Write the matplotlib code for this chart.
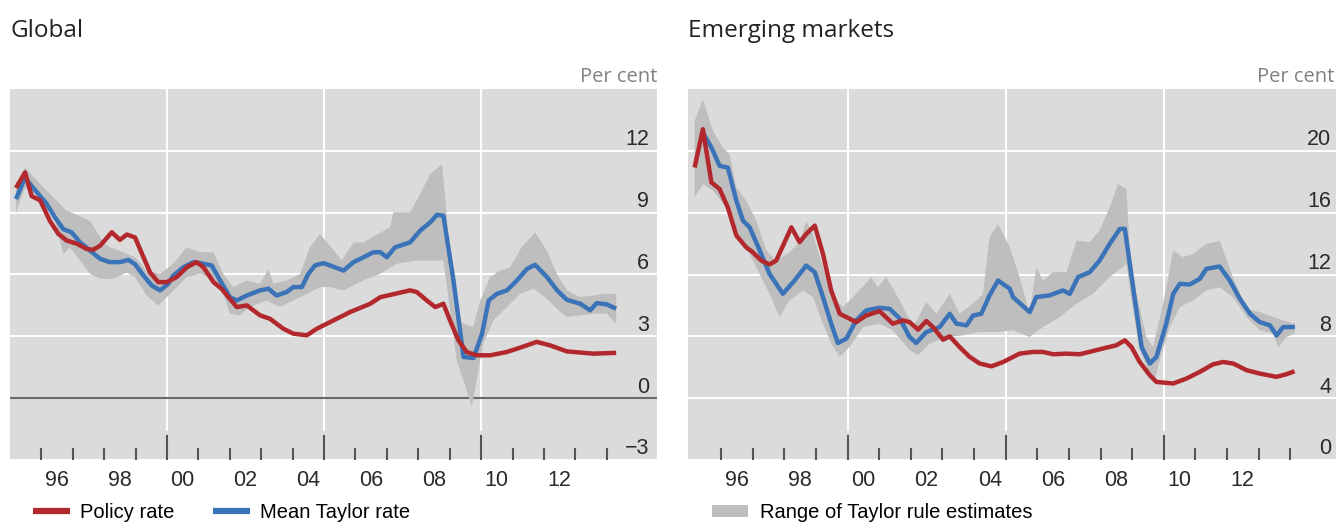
import matplotlib
matplotlib.use("Agg")
import matplotlib.pyplot as plt
from matplotlib.lines import Line2D
from matplotlib.patches import Patch

# ---- data (year, per cent) ----
# Global
gl_policy_x = [1995.19, 1995.48, 1995.69, 1995.96, 1996.27, 1996.54, 1996.80, 1997.12, 1997.44, 1997.65,
               1997.87, 1998.24, 1998.50, 1998.72, 1998.98, 1999.25, 1999.46, 1999.72, 1999.99, 2000.30,
               2000.63, 2000.94, 2001.16, 2001.48, 2001.74, 2002.00, 2002.22, 2002.54, 2002.96, 2003.28,
               2003.70, 2004.02, 2004.45, 2004.77, 2005.19, 2005.83, 2006.47, 2006.79, 2007.74, 2007.95,
               2008.27, 2008.54, 2008.80, 2009.01, 2009.28, 2009.54, 2009.86, 2010.29, 2010.82, 2011.24,
               2011.77, 2012.20, 2012.73, 2013.57, 2014.30]
gl_policy = [10.2, 10.95, 9.8, 9.6, 8.6, 7.97, 7.65, 7.5, 7.24, 7.2,
             7.4, 8.05, 7.68, 7.94, 7.8, 6.84, 6.1, 5.63, 5.63, 5.87,
             6.35, 6.6, 6.35, 5.63, 5.3, 4.82, 4.42, 4.5, 4.02, 3.85,
             3.37, 3.13, 3.05, 3.37, 3.69, 4.18, 4.58, 4.9, 5.23, 5.15,
             4.74, 4.42, 4.58, 3.77, 2.8, 2.24, 2.08, 2.08, 2.24, 2.45,
             2.73, 2.56, 2.27, 2.16, 2.2]

gl_taylor_x = [1995.19, 1995.48, 1995.74, 1996.17, 1996.43, 1996.70, 1996.96, 1997.23, 1997.55, 1997.87,
               1998.18, 1998.50, 1998.77, 1998.98, 1999.25, 1999.51, 1999.78, 2000.04, 2000.20, 2000.52,
               2000.84, 2001.16, 2001.42, 2001.69, 2002.00, 2002.22, 2002.54, 2002.96, 2003.23, 2003.49,
               2003.81, 2004.02, 2004.29, 2004.50, 2004.71, 2004.98, 2005.19, 2005.62, 2005.94, 2006.26,
               2006.57, 2006.79, 2007.00, 2007.26, 2007.74, 2008.06, 2008.38, 2008.59, 2008.80, 2009.12,
               2009.44, 2009.76, 2010.03, 2010.24, 2010.50, 2010.82, 2011.14, 2011.46, 2011.72, 2012.10,
               2012.42, 2012.73, 2013.16, 2013.47, 2013.68, 2014.00, 2014.30]
gl_taylor = [9.66, 10.7, 10.2, 9.42, 8.77, 8.2, 8.05, 7.56, 7.16, 6.76,
             6.6, 6.6, 6.71, 6.5, 5.95, 5.47, 5.23, 5.55, 5.95, 6.35,
             6.6, 6.52, 6.44, 5.71, 4.9, 4.74, 4.98, 5.23, 5.31, 4.98,
             5.15, 5.39, 5.39, 6.03, 6.44, 6.55, 6.44, 6.19, 6.6, 6.84,
             7.08, 7.08, 6.84, 7.32, 7.56, 8.13, 8.53, 8.89, 8.85, 5.71,
             2.0, 1.95, 3.13, 4.74, 5.06, 5.23, 5.71, 6.27, 6.47, 5.87,
             5.23, 4.77, 4.58, 4.26, 4.61, 4.55, 4.34]

gl_hi_x = [1995.19, 1995.48, 1995.96, 1996.38, 1996.80, 1997.12, 1997.55, 1997.97, 1998.18, 1998.61,
           1998.98, 1999.35, 1999.78, 2000.20, 2000.63, 2001.05, 2001.48, 2001.79, 2002.11, 2002.54,
           2002.96, 2003.23, 2003.39, 2003.81, 2004.24, 2004.55, 2004.87, 2005.19, 2005.56, 2005.94,
           2006.25, 2007.10, 2007.21, 2007.74, 2008.06, 2008.38, 2008.75, 2008.85, 2009.01, 2009.22,
           2009.44, 2009.75, 2009.97, 2010.29, 2010.60, 2010.92, 2011.29, 2011.72, 2012.09, 2012.41,
           2012.73, 2013.15, 2013.58, 2013.90, 2014.30]
gl_hi = [10.3, 11.2, 10.4, 9.74, 9.1, 8.9, 8.6, 7.56, 7.32, 7.08,
         6.84, 6.19, 6.03, 6.52, 7.32, 7.08, 7.08, 6.03, 5.39, 5.71,
         5.55, 6.27, 5.55, 5.71, 6.03, 7.32, 7.97, 7.4, 6.68, 7.56,
         7.56, 8.29, 9.02, 9.02, 9.9, 10.87, 11.35, 9.9, 6.68, 3.94,
         3.61, 3.45, 4.74, 5.87, 6.19, 6.35, 7.32, 8.05, 7.16, 6.03,
         5.23, 4.9, 4.98, 5.06, 5.06]

gl_lo_x = [1995.19, 1995.48, 1995.96, 1996.38, 1996.70, 1996.91, 1997.23, 1997.55, 1997.87, 1998.29,
           1998.71, 1998.98, 1999.35, 1999.72, 1999.99, 2000.31, 2000.63, 2001.05, 2001.48, 2001.79,
           2002.00, 2002.32, 2002.64, 2003.17, 2003.60, 2004.02, 2004.45, 2004.87, 2005.19, 2005.62,
           2006.25, 2006.78, 2007.31, 2007.95, 2008.80, 2009.01, 2009.22, 2009.54, 2009.70, 2009.86,
           2010.07, 2010.39, 2010.82, 2011.24, 2011.67, 2012.09, 2012.41, 2012.73, 2013.15, 2013.58,
           2014.00, 2014.30]
gl_lo = [9.0, 10.2, 9.74, 8.94, 7.0, 7.32, 6.68, 6.03, 5.79, 5.79,
         6.1, 5.87, 4.98, 4.5, 4.9, 5.39, 5.87, 6.03, 5.79, 5.06,
         4.1, 4.02, 4.42, 4.74, 4.42, 4.74, 5.06, 5.39, 5.39, 5.23,
         5.71, 6.03, 6.52, 6.68, 6.68, 4.26, 1.84, 0.39, -0.42, 0.87,
         2.65, 3.77, 4.42, 5.06, 5.31, 4.82, 4.34, 3.94, 4.02, 4.1,
         4.1, 3.6]

# Emerging markets
em_policy_x = [1995.16, 1995.42, 1995.69, 1995.95, 1996.21, 1996.48, 1996.79, 1997.00, 1997.27, 1997.53,
               1997.74, 1998.22, 1998.48, 1998.69, 1998.96, 1999.22, 1999.48, 1999.75, 2000.06, 2000.27,
               2000.59, 2001.01, 2001.43, 2001.75, 2001.96, 2002.23, 2002.49, 2002.70, 2003.02, 2003.23,
               2003.54, 2003.86, 2004.18, 2004.55, 2004.92, 2005.13, 2005.44, 2005.86, 2006.18, 2006.50,
               2006.92, 2007.34, 2007.76, 2008.19, 2008.50, 2008.77, 2008.98, 2009.24, 2009.56, 2009.77,
               2010.30, 2010.72, 2011.14, 2011.56, 2011.88, 2012.20, 2012.62, 2013.04, 2013.57, 2013.88,
               2014.14]
em_policy = [18.92, 21.4, 17.96, 17.53, 16.34, 14.52, 13.76, 13.44, 12.9, 12.65,
             12.9, 15.05, 14.09, 14.62, 15.16, 13.33, 10.97, 9.46, 9.14, 8.92,
             9.35, 9.63, 8.82, 9.03, 8.92, 8.43, 8.99, 8.6, 7.78, 8.0,
             7.31, 6.67, 6.24, 6.06, 6.34, 6.56, 6.88, 6.99, 6.99, 6.84,
             6.88, 6.84, 7.05, 7.27, 7.42, 7.74, 7.31, 6.34, 5.48, 5.05,
             4.95, 5.27, 5.7, 6.19, 6.34, 6.24, 5.81, 5.59, 5.38, 5.55,
             5.74]

em_taylor_x = [1995.42, 1995.69, 1995.95, 1996.21, 1996.48, 1996.69, 1996.90, 1997.22, 1997.53, 1997.95,
               1998.32, 1998.69, 1998.96, 1999.22, 1999.48, 1999.69, 1999.96, 2000.27, 2000.59, 2001.01,
               2001.33, 2001.65, 2001.96, 2002.17, 2002.49, 2002.91, 2003.23, 2003.44, 2003.76, 2003.97,
               2004.23, 2004.49, 2004.76, 2005.13, 2005.23, 2005.76, 2005.97, 2006.39, 2006.81, 2007.03,
               2007.29, 2007.66, 2007.97, 2008.29, 2008.61, 2008.77, 2009.03, 2009.30, 2009.56, 2009.77,
               2010.08, 2010.30, 2010.51, 2010.82, 2011.14, 2011.35, 2011.77, 2012.09, 2012.41, 2012.73,
               2013.04, 2013.36, 2013.57, 2013.78, 2014.15]
em_taylor = [21.18, 20.22, 19.03, 18.92, 16.77, 15.48, 15.05, 13.55, 12.04, 10.75,
             11.61, 12.58, 12.15, 10.54, 8.82, 7.57, 7.85, 9.03, 9.68, 9.85,
             9.78, 9.14, 7.96, 7.57, 8.28, 8.6, 9.46, 8.82, 8.71, 9.35,
             9.46, 10.65, 11.61, 11.08, 10.54, 9.57, 10.54, 10.65, 10.97, 10.75,
             11.83, 12.15, 12.9, 13.98, 14.95, 14.95, 11.18, 7.31, 6.24, 6.67,
             8.82, 10.75, 11.4, 11.35, 11.72, 12.37, 12.52, 11.61, 10.43, 9.46,
             8.92, 8.71, 8.06, 8.6, 8.6]

em_hi_x = [1995.16, 1995.42, 1995.74, 1996.05, 1996.27, 1996.48, 1996.79, 1997.11, 1997.43, 1997.74,
           1998.16, 1998.48, 1998.69, 1998.90, 1999.22, 1999.54, 1999.85, 2000.27, 2000.75, 2000.96,
           2001.22, 2001.65, 2002.07, 2002.49, 2002.81, 2003.23, 2003.54, 2003.97, 2004.28, 2004.49,
           2004.76, 2005.13, 2005.44, 2005.76, 2005.97, 2006.18, 2006.50, 2006.92, 2007.24, 2007.66,
           2007.97, 2008.29, 2008.55, 2008.82, 2008.92, 2009.14, 2009.45, 2009.66, 2009.98, 2010.30,
           2010.61, 2010.93, 2011.35, 2011.77, 2012.19, 2012.62, 2013.04, 2013.46, 2013.78, 2014.15]
em_hi = [21.94, 23.33, 21.29, 20.22, 19.78, 17.63, 16.77, 15.48, 13.55, 12.9,
         13.44, 14.09, 15.48, 14.62, 12.47, 10.54, 9.89, 10.75, 11.83, 11.18,
         11.83, 10.32, 8.6, 10.22, 9.46, 10.75, 9.46, 10.11, 10.75, 14.41,
         15.27, 13.76, 11.83, 9.46, 12.47, 11.61, 12.15, 12.15, 14.19, 14.09,
         14.84, 16.34, 17.85, 17.53, 13.76, 10.75, 7.96, 7.31, 10.11, 13.55,
         13.12, 13.33, 13.98, 14.19, 11.83, 9.78, 9.57, 9.25, 9.03, 8.82]

em_lo_x = [1995.16, 1995.42, 1995.74, 1996.16, 1996.48, 1996.79, 1997.22, 1997.53, 1997.85, 1998.16,
           1998.59, 1998.90, 1999.22, 1999.48, 1999.75, 2000.06, 2000.49, 2001.01, 2001.43, 2001.96,
           2002.23, 2002.59, 2003.12, 2003.65, 2004.18, 2004.70, 2005.23, 2005.76, 2006.18, 2006.71,
           2007.24, 2007.76, 2008.29, 2008.82, 2008.98, 2009.24, 2009.50, 2009.71, 2009.87, 2010.19,
           2010.51, 2010.93, 2011.35, 2011.77, 2012.19, 2012.62, 2013.04, 2013.46, 2013.62, 2013.88,
           2014.15]
em_lo = [16.99, 17.85, 17.42, 16.34, 14.62, 13.76, 12.04, 10.75, 9.25, 10.32,
         10.97, 10.54, 8.82, 7.53, 6.67, 7.31, 8.6, 8.82, 8.39, 7.1,
         6.77, 7.53, 7.96, 8.06, 8.28, 8.28, 8.39, 7.96, 8.6, 9.25,
         10.11, 10.75, 11.83, 12.69, 10.32, 7.1, 5.81, 5.16, 6.45, 8.6,
         9.89, 10.32, 10.97, 11.18, 10.54, 9.25, 8.39, 8.17, 7.31, 7.96,
         8.17]

year_labels = ["96", "98", "00", "02", "04", "06", "08", "10", "12"]
gl_yticks = [-3, 0, 3, 6, 9, 12]
em_yticks = [0, 4, 8, 12, 16, 20]

# ---- style ----
RED = "#B3282D"
BLUE = "#3B73B9"
BAND = "#BEBEBE"
BG = "#DBDBDB"
TICK = "#555555"
TXT_FONT = ["Liberation Sans", "DejaVu Sans"]
HEAD_FONT = ["Open Sans", "DejaVu Sans"]

W, H = 1338, 523
fig = plt.figure(figsize=(W / 100, H / 100), dpi=100)


def panel(rect, xlim, ylim, yticks, band, policy, taylor, zero_line, lab_dx):
    ax = fig.add_axes(rect)
    ax.set_facecolor(BG)
    ax.set_xlim(*xlim)
    ax.set_ylim(*ylim)
    for s in ax.spines.values():
        s.set_visible(False)

    # white grid
    for yt in yticks:
        ax.axhline(yt, color="white", lw=1.4, zorder=1)
    for yr in (2000, 2005, 2010):
        ax.axvline(yr, ymin=30 / 371, ymax=1, color="white", lw=1.4, zorder=1)
        ax.axvline(yr, ymin=0, ymax=24 / 371, color=TICK, lw=1.5, zorder=4)
    if zero_line:
        ax.axhline(0, color="#6a6a6a", lw=1.5, zorder=2)

    # range band + lines
    (hx, hy), (lx, ly) = band
    ax.fill(list(hx) + list(lx[::-1]), list(hy) + list(ly[::-1]),
            color=BAND, lw=0, zorder=2)
    ax.plot(*taylor, color=BLUE, lw=3.2, solid_capstyle="butt", zorder=3)
    ax.plot(*policy, color=RED, lw=3.2, solid_capstyle="butt", zorder=3)

    # year ticks inside from the bottom
    ax.set_xticks([y for y in range(1996, 2015) if y not in (2000, 2005, 2010)])
    ax.set_xticklabels([])
    ax.set_yticks([])
    ax.tick_params(axis="x", direction="in", length=8.6, width=1.5, color=TICK)

    for i, lab in enumerate(year_labels):
        ax.annotate(lab, xy=(1996.5 + 2 * i, 0), xycoords=("data", "axes fraction"),
                    xytext=(0, -21), textcoords="offset pixels", ha="center", va="center",
                    fontsize=15.5, family=TXT_FONT, color="#2a2a2a")
    for yt in yticks:
        lab = f"{yt}".replace("-", "\u2212")
        ax.annotate(lab, xy=(1, yt), xycoords=("axes fraction", "data"),
                    xytext=(lab_dx, 11), textcoords="offset pixels", ha="right", va="center",
                    fontsize=15.5, family=TXT_FONT, color="#2a2a2a")
    return ax


panel([10 / W, 63 / H, 647 / W, 371 / H], (1995.0, 2015.6), (-3, 15), gl_yticks,
      ((gl_hi_x, gl_hi), (gl_lo_x, gl_lo)), (gl_policy_x, gl_policy),
      (gl_taylor_x, gl_taylor), True, -8)
panel([688 / W, 63 / H, 648 / W, 371 / H], (1994.95, 2015.45), (0, 24), em_yticks,
      ((em_hi_x, em_hi), (em_lo_x, em_lo)), (em_policy_x, em_policy),
      (em_taylor_x, em_taylor), False, -5)

# titles and units
fig.text(10 / W, 1 - 37 / H, "Global", fontsize=17.5, family=HEAD_FONT, color="#222222", va="baseline")
fig.text(688 / W, 1 - 37 / H, "Emerging markets", fontsize=17.5, family=HEAD_FONT, color="#222222",
         va="baseline")
fig.text(657 / W, 1 - 82 / H, "Per cent", fontsize=14.5, family=HEAD_FONT, color="#808080",
         ha="right", va="baseline")
fig.text(1334 / W, 1 - 82 / H, "Per cent", fontsize=14.5, family=HEAD_FONT, color="#808080",
         ha="right", va="baseline")

# legends
fig.legend(handles=[Line2D([], [], color=RED, lw=4.5, solid_capstyle="butt", label="Policy rate"),
                    Line2D([], [], color=BLUE, lw=4.5, solid_capstyle="butt", label="Mean Taylor rate")],
           loc="center left", bbox_to_anchor=(33 / W, 1 - 513 / H), ncol=2, frameon=False,
           borderpad=0, borderaxespad=0, handlelength=1.85, handletextpad=0.5, columnspacing=1.9,
           prop={"family": TXT_FONT, "size": 14.5})
fig.legend(handles=[Patch(facecolor=BAND, edgecolor="none", label="Range of Taylor rule estimates")],
           loc="center left", bbox_to_anchor=(712 / W, 1 - 513 / H), frameon=False,
           borderpad=0, borderaxespad=0, handlelength=1.8, handleheight=0.55, handletextpad=0.6,
           prop={"family": TXT_FONT, "size": 14.5})

fig.savefig("out.png", dpi=100)
